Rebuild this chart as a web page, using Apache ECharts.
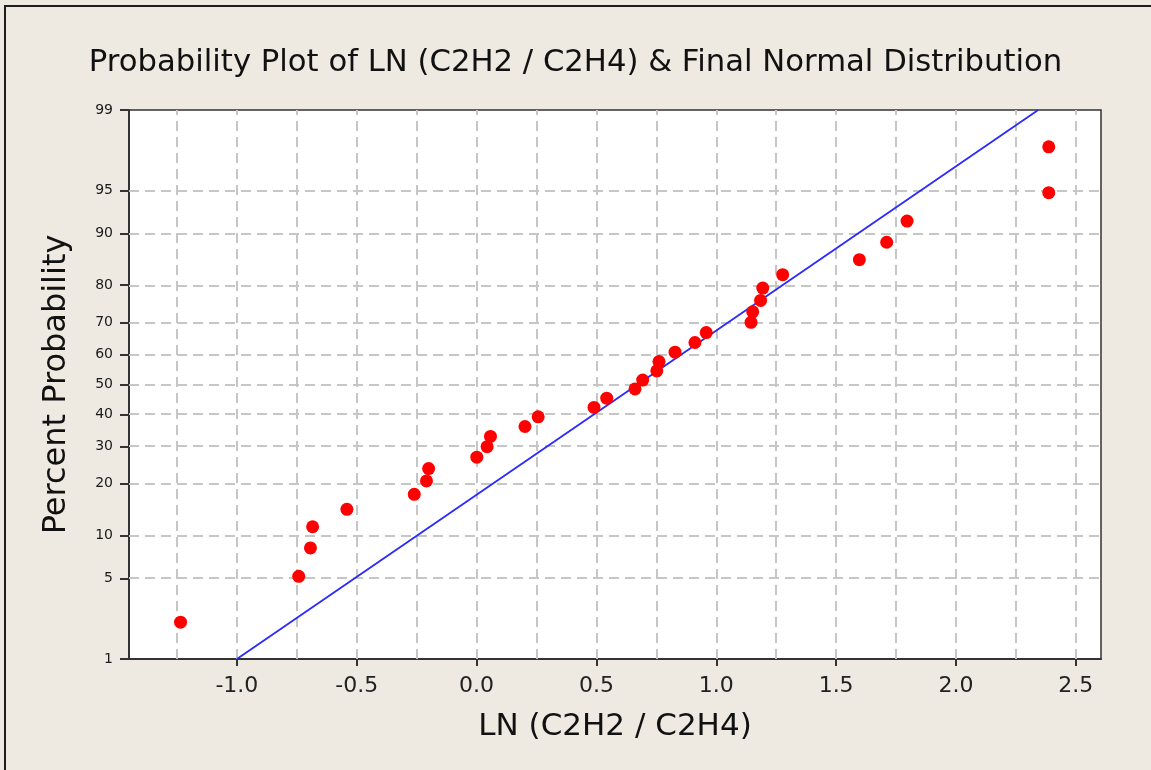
<!DOCTYPE html>
<html>
<head>
<meta charset="utf-8">
<script src="https://cdn.jsdelivr.net/npm/echarts@6/dist/echarts.min.js"></script>
<style>
  html, body { margin: 0; padding: 0; background: #eeeae1; }
  #chart { width: 1151px; height: 770px; }
</style>
</head>
<body>
<div id="chart"></div>
<script>
// LN(C2H2/C2H4) values
var lnValues = [-1.235, -0.742, -0.693, -0.684, -0.541, -0.260, -0.209, -0.200,
    0.001, 0.044, 0.058, 0.202, 0.257, 0.490, 0.543, 0.661, 0.693, 0.752, 0.761,
    0.828, 0.911, 0.958, 1.145, 1.152, 1.185, 1.194, 1.277, 1.597, 1.711, 1.796,
    2.387, 2.387];
// percent probability of each point
var pctValues = [2.2, 5.2, 8.3, 11.4, 14.5, 17.6, 20.7, 23.8, 26.9, 29.9, 33.0,
    36.1, 39.2, 42.3, 45.4, 48.5, 51.5, 54.6, 57.7, 60.8, 63.9, 67.0, 70.1, 73.1,
    76.2, 79.3, 82.4, 85.5, 88.6, 91.7, 94.8, 97.8];
// fitted normal line, two ends
var fitX = [-1.0, 2.343];
var fitPct = [1, 99];
// tick labels
var yTicks = [1, 5, 10, 20, 30, 40, 50, 60, 70, 80, 90, 95, 99];
var xTicks = [-1.0, -0.5, 0.0, 0.5, 1.0, 1.5, 2.0, 2.5];
var xGrid = [-1.25, -1.0, -0.75, -0.5, -0.25, 0.0, 0.25, 0.5, 0.75, 1.0, 1.25,
    1.5, 1.75, 2.0, 2.25, 2.5];

// inverse of the normal cdf (Acklam), used as the probability scale
function probit(p) {
    var a = [-3.969683028665376e+01, 2.209460984245205e+02, -2.759285104469687e+02,
        1.383577518672690e+02, -3.066479806614716e+01, 2.506628277459239e+00];
    var b = [-5.447609879822406e+01, 1.615858368580409e+02, -1.556989798598866e+02,
        6.680131188771972e+01, -1.328068155288572e+01];
    var c = [-7.784894002430293e-03, -3.223964580411365e-01, -2.400758277161838e+00,
        -2.549732539343734e+00, 4.374664141464968e+00, 2.938163982698783e+00];
    var d = [7.784695709041462e-03, 3.224671290700398e-01, 2.445134137142996e+00,
        3.754408661907416e+00];
    var pl = 0.02425, q, r;
    if (p < pl) {
        q = Math.sqrt(-2 * Math.log(p));
        return (((((c[0] * q + c[1]) * q + c[2]) * q + c[3]) * q + c[4]) * q + c[5]) /
            ((((d[0] * q + d[1]) * q + d[2]) * q + d[3]) * q + 1);
    }
    if (p > 1 - pl) {
        q = Math.sqrt(-2 * Math.log(1 - p));
        return -(((((c[0] * q + c[1]) * q + c[2]) * q + c[3]) * q + c[4]) * q + c[5]) /
            ((((d[0] * q + d[1]) * q + d[2]) * q + d[3]) * q + 1);
    }
    q = p - 0.5;
    r = q * q;
    return (((((a[0] * r + a[1]) * r + a[2]) * r + a[3]) * r + a[4]) * r + a[5]) * q /
        (((((b[0] * r + b[1]) * r + b[2]) * r + b[3]) * r + b[4]) * r + 1);
}
function z(pct) { return probit(pct / 100); }

var zMax = z(99);
var yTickZ = yTicks.map(z);

var points = lnValues.map(function (v, i) { return [v, z(pctValues[i])]; });
var fitLine = fitX.map(function (v, i) { return [v, z(fitPct[i])]; });

var gridLineStyle = { color: '#c6c6c6', type: [10, 6], width: 2, opacity: 1 };
var gridLines = [];
yTickZ.slice(1, -1).forEach(function (v) { gridLines.push({ yAxis: v }); });
xGrid.forEach(function (v) { gridLines.push({ xAxis: v }); });

var myChart = echarts.init(document.getElementById('chart'));
var option = {
    backgroundColor: '#eeeae1',
    animation: false,
    textStyle: { fontFamily: 'DejaVu Sans' },
    // frame round the picture
    graphic: [{
        type: 'rect',
        shape: { x: 5, y: 6, width: 1300, height: 900 },
        style: { fill: null, stroke: '#1e1e1e', lineWidth: 2 },
        silent: true
    }],
    title: {
        text: 'Probability Plot of LN (C2H2 / C2H4) & Final Normal Distribution',
        left: 'center',
        top: 43,
        textStyle: { fontSize: 30.7, fontWeight: 'normal', color: '#111', fontFamily: 'DejaVu Sans' }
    },
    grid: {
        left: 129, top: 110, right: 50, bottom: 111,
        show: true,
        backgroundColor: '#ffffff',
        borderColor: '#333',
        borderWidth: 1.5
    },
    xAxis: {
        type: 'value',
        min: -1.45,
        max: 2.605,
        name: 'LN (C2H2 / C2H4)',
        nameLocation: 'middle',
        nameGap: 52,
        nameTextStyle: { fontSize: 31, color: '#111' },
        axisLine: { onZero: false, lineStyle: { color: '#333', width: 2 } },
        axisTick: { show: true, length: 7, customValues: xTicks, lineStyle: { color: '#333', width: 2 } },
        axisLabel: {
            customValues: xTicks,
            fontSize: 22, color: '#222', margin: 16,
            formatter: function (v) { return v.toFixed(1); }
        },
        splitLine: { show: false }
    },
    yAxis: {
        type: 'value',
        min: -zMax,
        max: zMax,
        name: 'Percent Probability',
        nameLocation: 'middle',
        nameGap: 56,
        nameTextStyle: { fontSize: 32, color: '#111' },
        axisLine: { onZero: false, lineStyle: { color: '#333', width: 2 } },
        axisTick: { show: true, length: 9, customValues: yTickZ, lineStyle: { color: '#333', width: 2 } },
        axisLabel: {
            customValues: yTickZ,
            fontSize: 14, color: '#1a1a1a', margin: 16,
            formatter: function (v) {
                for (var i = 0; i < yTicks.length; i++) {
                    if (Math.abs(yTickZ[i] - v) < 1e-6) return String(yTicks[i]);
                }
                return '';
            }
        },
        splitLine: { show: false }
    },
    series: [
        {
            // dashed grid, kept beneath the marks
            type: 'line',
            data: [],
            z: 1,
            silent: true,
            markLine: {
                z: 1,
                silent: true,
                symbol: 'none',
                label: { show: false },
                lineStyle: gridLineStyle,
                emphasis: { disabled: true },
                data: gridLines
            }
        },
        {
            name: 'Normal fit',
            type: 'line',
            data: fitLine,
            z: 2,
            showSymbol: false,
            lineStyle: { color: '#2a2aff', width: 1.8 }
        },
        {
            name: 'LN (C2H2 / C2H4)',
            type: 'scatter',
            data: points,
            z: 3,
            symbolSize: 13,
            itemStyle: { color: '#ff0000', opacity: 1 }
        }
    ]
};
myChart.setOption(option);
</script>
</body>
</html>
